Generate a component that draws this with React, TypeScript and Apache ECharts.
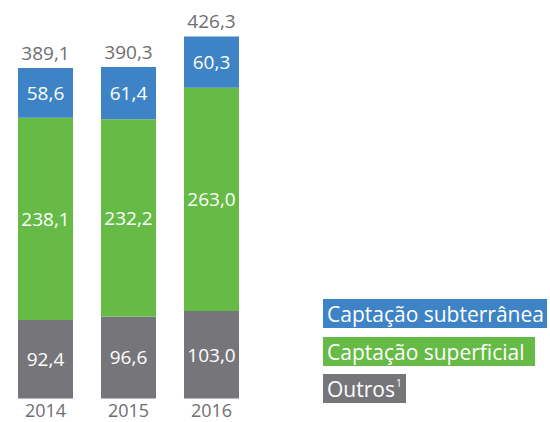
import React, { useEffect, useRef } from "react";
import * as echarts from "echarts";

const years = ["2014", "2015", "2016"];
const outros = [92.4, 96.6, 103.0];
const superficial = [238.1, 232.2, 263.0];
const subterranea = [58.6, 61.4, 60.3];
const totals = [389.1, 390.3, 426.3];
const legendLabels = ["Captação subterrânea", "Captação superficial", "Outros"];

const BLUE = "#3d83c6";
const GREEN = "#66bb46";
const GRAY = "#76767a";
const TEXT = "#6d6e71";
const FONT = "'Open Sans', sans-serif";

const fmt = (v: number) => v.toFixed(1).replace(".", ",");

export default function App() {
  const ref = useRef<HTMLDivElement>(null);
  useEffect(() => {
    const chart = echarts.init(ref.current!, null, { renderer: "svg" });
    const inner = {
      show: true,
      position: "inside" as const,
      color: "#fff",
      fontSize: 19,
      fontFamily: FONT,
      formatter: (p: any) => fmt(p.value),
    };
    const legendItem = (i: number, y: number, color: string, w: number) => ({
      type: "group",
      left: 323,
      top: y,
      children: [
        { type: "rect", shape: { x: 0, y: 0, width: w, height: 29 }, style: { fill: color } },
        {
          type: "text",
          x: 4,
          y: 14.5,
          style: {
            text: i === 2 ? "Outros{s|1}" : legendLabels[i],
            fill: "#fff",
            font: `21px ${FONT}`,
            verticalAlign: "middle",
            rich: { s: { fontSize: 10, fill: "#fff", verticalAlign: "top", padding: [0, 0, 10, 1], fontFamily: FONT } },
          },
        },
      ],
    });
    chart.setOption({
      animation: false,
      grid: { left: 4, width: 249, bottom: 23.5, top: 16.3, containLabel: false },
      xAxis: {
        type: "category",
        data: years,
        axisLine: { show: false },
        axisTick: { show: false },
        axisLabel: { color: TEXT, fontSize: 18, lineHeight: 18, fontFamily: FONT, margin: 2 },
      },
      yAxis: { type: "value", min: 0, max: 450, show: false, splitLine: { show: false } },
      series: [
        { type: "bar", name: "Outros", stack: "a", data: outros, barWidth: 55, itemStyle: { color: GRAY }, label: inner },
        { type: "bar", name: "Captação superficial", stack: "a", data: superficial, barWidth: 55, itemStyle: { color: GREEN }, label: inner },
        { type: "bar", name: "Captação subterrânea", stack: "a", data: subterranea, barWidth: 55, itemStyle: { color: BLUE }, label: inner },
        {
          type: "bar",
          name: "Total",
          stack: "a",
          data: totals.map(() => 0),
          barWidth: 55,
          itemStyle: { color: "transparent" },
          label: {
            show: true,
            position: "top",
            distance: 6,
            color: TEXT,
            fontSize: 19,
            fontFamily: FONT,
            formatter: (p: any) => fmt(totals[p.dataIndex]),
          },
        },
      ],
      graphic: [
        legendItem(0, 299, BLUE, 224),
        legendItem(1, 337, GREEN, 212),
        legendItem(2, 374, GRAY, 83),
      ],
    });
    return () => chart.dispose();
  }, []);
  return <div ref={ref} style={{ width: 550, height: 422, position: "absolute", left: 0, top: 0 }} />;
}
